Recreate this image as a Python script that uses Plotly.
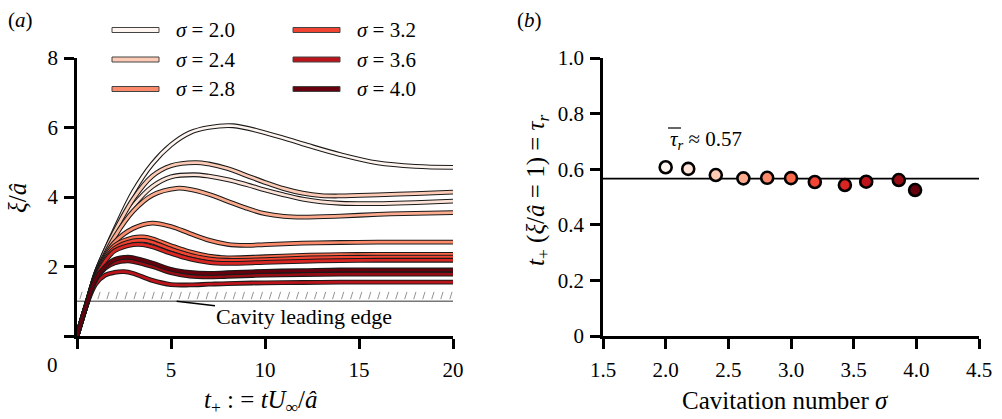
import numpy as np
import plotly.graph_objects as go

# ---------------- data: panel (a) ----------------
sigma_curves = [2.0, 2.2, 2.4, 2.6, 2.8, 3.0, 3.2, 3.4, 3.6, 3.8, 4.0]

t_s20 = [0, 0.5, 1, 1.5, 2, 3, 4, 5, 6, 7, 8.3, 10, 12, 14, 16, 18, 20]
xi_s20 = [0, 0.9, 1.8, 2.45, 3.05, 4.15, 4.95, 5.5, 5.85, 6.0, 6.05, 5.85, 5.53, 5.22, 4.98, 4.88, 4.85]

t_s22 = [0, 0.5, 1, 1.5, 2, 3, 4, 5, 6.2, 7, 8, 9, 10, 11, 12, 13, 14, 16, 18, 20]
xi_s22 = [0, 0.9, 1.8, 2.4, 2.95, 3.75, 4.3, 4.58, 4.64, 4.6, 4.5, 4.36, 4.2, 4.06, 3.94, 3.86, 3.82, 3.81, 3.84, 3.88]

t_s24 = [0, 0.5, 1, 1.5, 2, 3, 4, 5, 6.3, 7, 8, 9, 10, 11, 12, 13, 14, 16, 18, 20]
xi_s24 = [0, 0.9, 1.8, 2.45, 3.0, 3.95, 4.6, 4.9, 4.99, 4.95, 4.82, 4.62, 4.42, 4.24, 4.11, 4.04, 4.03, 4.06, 4.1, 4.14]

t_s26 = [0, 0.5, 1, 1.5, 2, 3, 4, 5.3, 6, 7, 8, 9, 10, 11, 12, 14, 16, 18, 20]
xi_s26 = [0, 0.9, 1.78, 2.35, 2.85, 3.6, 4.05, 4.25, 4.22, 4.08, 3.88, 3.68, 3.52, 3.44, 3.42, 3.45, 3.5, 3.53, 3.55]

t_s28 = [0, 0.5, 1, 1.5, 2, 3, 4, 5, 6, 7, 8, 9, 10, 12, 14, 16, 18, 20]
xi_s28 = [0, 0.9, 1.75, 2.3, 2.7, 3.1, 3.25, 3.15, 2.95, 2.76, 2.64, 2.61, 2.63, 2.67, 2.69, 2.7, 2.7, 2.7]

t_s30 = [0, 0.5, 1, 1.5, 2, 3, 3.5, 4, 5, 6, 7, 8, 10, 12, 14, 16, 18, 20]
xi_s30 = [0, 0.9, 1.72, 2.25, 2.6, 2.83, 2.85, 2.8, 2.6, 2.42, 2.3, 2.25, 2.28, 2.32, 2.34, 2.35, 2.35, 2.35]

t_s32 = [0, 0.5, 1, 1.5, 2, 3, 3.5, 4, 5, 6, 7, 8, 10, 12, 14, 16, 18, 20]
xi_s32 = [0, 0.9, 1.7, 2.2, 2.52, 2.74, 2.75, 2.7, 2.5, 2.33, 2.22, 2.18, 2.2, 2.24, 2.26, 2.27, 2.27, 2.27]

t_s34 = [0, 0.5, 1, 1.5, 2, 3, 3.5, 4, 5, 6, 7, 8, 10, 12, 14, 16, 18, 20]
xi_s34 = [0, 0.88, 1.68, 2.15, 2.45, 2.63, 2.63, 2.57, 2.38, 2.22, 2.12, 2.09, 2.12, 2.15, 2.17, 2.18, 2.18, 2.18]

t_s36 = [0, 0.5, 1, 1.5, 2, 2.5, 3, 4, 5, 6, 7, 8, 10, 12, 14, 16, 18, 20]
xi_s36 = [0, 0.88, 1.5, 1.75, 1.83, 1.85, 1.8, 1.6, 1.48, 1.47, 1.49, 1.51, 1.53, 1.54, 1.55, 1.55, 1.55, 1.55]

t_s38 = [0, 0.5, 1, 1.5, 2, 2.7, 3, 4, 5, 6, 7, 8, 10, 12, 14, 16, 18, 20]
xi_s38 = [0, 0.9, 1.62, 1.95, 2.1, 2.16, 2.14, 2.0, 1.82, 1.72, 1.7, 1.72, 1.75, 1.77, 1.78, 1.78, 1.78, 1.78]

t_s40 = [0, 0.5, 1, 1.5, 2, 2.7, 3, 4, 5, 6, 7, 8, 10, 12, 14, 16, 18, 20]
xi_s40 = [0, 0.9, 1.65, 2.0, 2.2, 2.27, 2.25, 2.1, 1.92, 1.83, 1.8, 1.82, 1.86, 1.88, 1.9, 1.9, 1.9, 1.9]

curves_t = [t_s20, t_s22, t_s24, t_s26, t_s28, t_s30, t_s32, t_s34, t_s36, t_s38, t_s40]
curves_xi = [xi_s20, xi_s22, xi_s24, xi_s26, xi_s28, xi_s30, xi_s32, xi_s34, xi_s36, xi_s38, xi_s40]

legend_sigmas = [2.0, 2.4, 2.8, 3.2, 3.6, 4.0]
cavity_edge = 1.0
t_range = [0, 20]

# ---------------- data: panel (b) ----------------
sigma_pts = [2.0, 2.18, 2.4, 2.62, 2.81, 3.0, 3.19, 3.43, 3.6, 3.86, 3.99]
tau_pts = [0.607, 0.601, 0.579, 0.567, 0.569, 0.568, 0.554, 0.543, 0.555, 0.561, 0.525]
sigma_range_b = [1.5, 4.5]
tau_mean = float(np.mean(tau_pts))

# ---------------- colours (ColorBrewer Reds) ----------------
reds = ["#fff5f0", "#fee0d2", "#fcbba1", "#fc9272", "#fb6a4a",
        "#ef3b2c", "#cb181d", "#a50f15", "#67000d"]


def hex2rgb(h):
    h = h.lstrip("#")
    return np.array([int(h[i:i + 2], 16) for i in (0, 2, 4)], dtype=float)


def sample_reds(v):
    pos = v * (len(reds) - 1)
    i = int(np.floor(pos))
    i = min(i, len(reds) - 2)
    f = pos - i
    c = hex2rgb(reds[i]) * (1 - f) + hex2rgb(reds[i + 1]) * f
    return "rgb(%d,%d,%d)" % tuple(np.round(c))


n = len(sigma_curves)
colors = [sample_reds(i / (n - 1)) for i in range(n)]
color_of = {s: c for s, c in zip(sigma_curves, colors)}

FONT = "Liberation Serif"
FS = 21      # tick labels, legend
FT = 25      # axis titles
FC = 22      # cavity label

fig = go.Figure()

# cavity leading edge line + hatching
fig.add_trace(go.Scatter(x=t_range, y=[cavity_edge, cavity_edge], mode="lines",
                         line=dict(color="#777777", width=1.6), xaxis="x", yaxis="y",
                         hoverinfo="skip"))
hx, hy = [], []
for x0 in np.arange(0.15, 19.9, 0.48):
    hx += [x0, x0 + 0.12, None]
    hy += [cavity_edge + 0.06, cavity_edge + 0.27, None]
fig.add_trace(go.Scatter(x=hx, y=hy, mode="lines", line=dict(color="#888888", width=0.9),
                         xaxis="x", yaxis="y", hoverinfo="skip"))

# curves: dark outline underneath, colour on top
for t, xi, s in zip(curves_t, curves_xi, sigma_curves):
    fig.add_trace(go.Scatter(x=t, y=xi, mode="lines",
                             line=dict(color="#1a1a1a", width=4.8, shape="spline", smoothing=1.0),
                             xaxis="x", yaxis="y", hoverinfo="skip"))
    fig.add_trace(go.Scatter(x=t, y=xi, mode="lines", name="σ = %.1f" % s,
                             line=dict(color=color_of[s], width=2.7, shape="spline", smoothing=1.0),
                             xaxis="x", yaxis="y"))

# panel (b)
fig.add_trace(go.Scatter(x=sigma_range_b, y=[tau_mean, tau_mean], mode="lines",
                         line=dict(color="black", width=1.6), xaxis="x2", yaxis="y2",
                         hoverinfo="skip"))
fig.add_trace(go.Scatter(x=sigma_pts, y=tau_pts, mode="markers",
                         marker=dict(size=12, color=colors, line=dict(color="black", width=2.6)),
                         xaxis="x2", yaxis="y2", cliponaxis=False))

W, H = 1002, 419


def px(x):
    return x / W


def py(y):
    return 1 - y / H


axis_common = dict(showline=True, linecolor="black", linewidth=2.8, ticks="outside",
                   ticklen=10, tickwidth=2.6, tickcolor="black", showgrid=False,
                   zeroline=False, tickfont=dict(family=FONT, size=FS, color="black"),
                   fixedrange=True, automargin=False)

fig.update_layout(
    template="none",
    width=W, height=H, margin=dict(l=0, r=0, t=0, b=0, pad=0), autosize=False,
    paper_bgcolor="white", plot_bgcolor="white", showlegend=False,
    font=dict(family=FONT, size=FS, color="black"),
    xaxis=dict(domain=[px(77), px(453)], range=t_range, tickvals=[0, 5, 10, 15, 20],
               ticktext=["", "5", "10", "15", "20"], anchor="y", ticklabelstandoff=3,
               **axis_common),
    yaxis=dict(domain=[py(336), py(58)], range=[0, 8], tickvals=[0, 2, 4, 6, 8],
               ticktext=["", "2", "4", "6", "8"], anchor="x", ticklabelstandoff=2,
               **axis_common),
    xaxis2=dict(domain=[px(603), px(979)], range=sigma_range_b,
                tickvals=[1.5, 2.0, 2.5, 3.0, 3.5, 4.0, 4.5],
                ticktext=["1.5", "2.0", "2.5", "3.0", "3.5", "4.0", "4.5"],
                anchor="y2", ticklabelstandoff=3, **axis_common),
    yaxis2=dict(domain=[py(336), py(58)], range=[0, 1],
                tickvals=[0, 0.2, 0.4, 0.6, 0.8, 1.0],
                ticktext=["0", "0.2", "0.4", "0.6", "0.8", "1.0"], anchor="x2",
                ticklabelstandoff=2, **axis_common),
)

ann = []
tf = dict(family=FONT, size=FS, color="black")
tt = dict(family=FONT, size=FT, color="black")
C = dict(xref="paper", yref="paper", showarrow=False, xanchor="center", yanchor="middle")
# panel labels
ann.append(dict(text="(<i>a</i>)", x=px(20), y=py(20), font=tf, **C))
ann.append(dict(text="(<i>b</i>)", x=px(529), y=py(20), font=tf, **C))
# origin label for (a)
ann.append(dict(text="0", x=px(52), y=py(365), font=tf, **C))
# axis titles
ann.append(dict(text="<i>t</i><sub>+</sub> : = <i>tU</i><sub>∞</sub>/<i>â</i>",
                x=px(261), y=py(401), font=tt, **C))
ann.append(dict(text="<i>ξ</i>/<i>â</i>", x=px(17), y=py(198), textangle=-90, font=tt, **C))
ann.append(dict(text="Cavitation number <i>σ</i>", x=px(785), y=py(400), font=tt, **C))
ann.append(dict(text="<i>t</i><sub>+</sub> (<i>ξ</i>/<i>â</i> = 1) = <i>τ<sub>r</sub></i>",
                x=px(537), y=py(190), textangle=-90, font=tt, **C))
# cavity leading edge label
ann.append(dict(text="Cavity leading edge", x=5.3, y=cavity_edge, xref="x", yref="y",
                ax=12.1, ay=0.57, axref="x", ayref="y", showarrow=True, arrowhead=0,
                arrowwidth=1.5, arrowcolor="black",
                font=dict(family=FONT, size=FC, color="black"), standoff=0))
# mean annotation (overline drawn as a short rule above the symbol)
ann.append(dict(text='<i>τ<sub>r</sub></i> ≈ %.2f' % tau_mean,
                x=2.02, y=0.705, xref="x2", yref="y2", xanchor="left", yanchor="middle",
                showarrow=False, font=tf))

shapes = [dict(type="line", xref="paper", yref="paper", x0=px(668), x1=px(681),
               y0=py(128), y1=py(128), line=dict(color="black", width=1.2))]

# legend (two columns, three rows)
for k, s in enumerate(legend_sigmas):
    col, row = divmod(k, 3)
    x0 = 112 + col * 181
    yc = 30 + row * 29.5
    shapes.append(dict(type="rect", xref="paper", yref="paper",
                       x0=px(x0), x1=px(x0 + 47), y0=py(yc + 2.5), y1=py(yc - 2.5),
                       fillcolor=color_of[s], line=dict(color="#444444", width=1)))
    ann.append(dict(text="<i>σ</i> = %.1f" % s, x=px(x0 + 62), y=py(yc), xref="paper",
                    yref="paper", xanchor="left", yanchor="middle", showarrow=False,
                    font=tf))

fig.update_layout(annotations=ann, shapes=shapes)
fig.write_html("out.html", config={"displayModeBar": False},
               post_script="document.body.style.margin='0px';")
